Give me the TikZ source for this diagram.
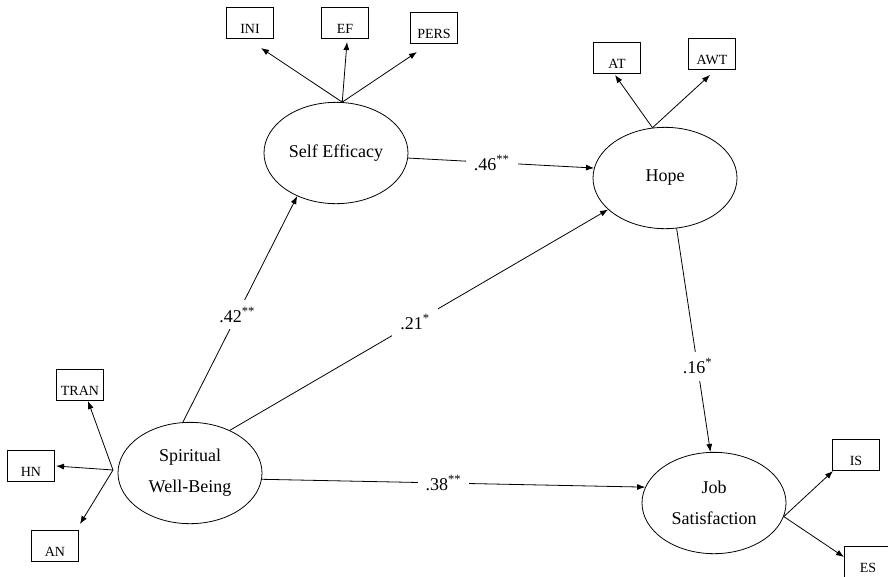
\documentclass[tikz,border=0pt]{standalone}
\usepackage{fontspec}
\setmainfont{Liberation Serif}
\usetikzlibrary{shapes.geometric,arrows.meta}
\begin{document}
\begin{tikzpicture}[x=0.75pt,y=-0.75pt,
  lat/.style={ellipse,draw,line width=0.6pt,minimum width=108pt,minimum height=76pt,inner sep=0pt,align=center,font=\fontsize{13.5}{23}\selectfont},
  ind/.style={rectangle,draw,line width=0.6pt,minimum width=35pt,minimum height=23.5pt,inner sep=0pt,text height=15pt,text depth=0pt,font=\fontsize{10.5}{12}\selectfont},
  arr/.style={line width=0.6pt,-{Latex[length=6pt,width=4.5pt]}},
  coef/.style={fill=white,inner xsep=6pt,inner ysep=5pt,font=\fontsize{13.5}{16}\selectfont}]
\useasboundingbox (0,0) rectangle (888,576);
% latent variables
\node[lat] (se) at (336,153) {Self Efficacy};
\node[lat] (hope) at (665,178) {Hope};
\node[lat] (sw) at (190,473) {Spiritual\\Well-Being};
\node[lat] (job) at (714,503) {Job\\Satisfaction};
% indicators
\node[ind] (ini) at (250,23) {INI};
\node[ind] (ef) at (345,23) {EF};
\node[ind] (pers) at (434,28) {PERS};
\node[ind] (at) at (617,58) {AT};
\node[ind] (awt) at (712,54) {AWT};
\node[ind] (tran) at (80,385) {TRAN};
\node[ind] (hn) at (31,466) {HN};
\node[ind] (an) at (55,546) {AN};
\node[ind] (is) at (856,455) {IS};
\node[ind] (es) at (868,562) {ES};
% arrow tips and origins
\coordinate (iniT) at (261,48);
\coordinate (efT) at (347,42);
\coordinate (persT) at (417,52);
\coordinate (atT) at (615,75);
\coordinate (awtT) at (710,75);
\coordinate (tranT) at (88,401);
\coordinate (hnT) at (56,466);
\coordinate (anT) at (80,524);
\coordinate (isT) at (833,471);
\coordinate (esT) at (844,557);
\coordinate (swo) at (113,470);
% measurement arrows
\draw[arr] (se.83) -- (iniT);
\draw[arr] (se.83) -- (efT);
\draw[arr] (se.83) -- (persT);
\draw[arr] (hope.104) -- (atT);
\draw[arr] (hope.104) -- (awtT);
\draw[arr] (swo) -- (tranT);
\draw[arr] (swo) -- (hnT);
\draw[arr] (swo) -- (anT);
\draw[arr] (job.349) -- (isT);
\draw[arr] (job.349) -- (esT);
% structural paths
\draw[arr] (se.-4) -- node[coef,pos=0.45] {.46\textsuperscript{**}} (hope.172);
\draw[arr] (sw.98) -- node[coef,pos=0.475] {.42\textsuperscript{**}} (se.228);
\draw[arr] (sw.47) -- node[coef,pos=0.49] {.21\textsuperscript{*}} (hope.209);
\draw[arr] (hope.283.5) -- node[coef,pos=0.617] {.16\textsuperscript{*}} (job.94);
\draw[arr] (sw.-5) -- node[coef,pos=0.474] {.38\textsuperscript{**}} (job.167);
\end{tikzpicture}
\end{document}
